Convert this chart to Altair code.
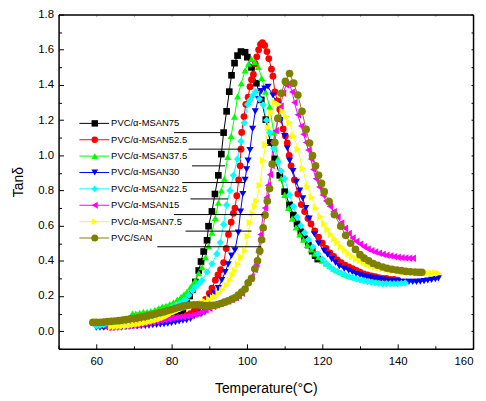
import altair as alt
import pandas as pd

FONT = "Liberation Sans"

labels = ["PVC/α-MSAN75", "PVC/α-MSAN52.5", "PVC/α-MSAN37.5", "PVC/α-MSAN30",
          "PVC/α-MSAN22.5", "PVC/α-MSAN15", "PVC/α-MSAN7.5", "PVC/SAN"]
colors = ["#000000", "#ff0000", "#00ff00", "#0000ff", "#00ffff", "#ff00ff", "#ffff00", "#808000"]
shapes = ["square", "circle", "triangle-up", "triangle-down", "diamond",
          "triangle-left", "triangle-right", "circle"]
sizes = [45, 60, 55, 55, 55, 55, 55, 70]
legend_sizes = [42, 50, 50, 50, 50, 50, 50, 55]

x_major = [60, 80, 100, 120, 140, 160]
x_minor = [50, 70, 90, 110, 130, 150]
x_all = [50, 60, 70, 80, 90, 100, 110, 120, 130, 140, 150, 160]
y_major = [0.0, 0.2, 0.4, 0.6, 0.8, 1.0, 1.2, 1.4, 1.6, 1.8]
y_minor = [-0.1, 0.1, 0.3, 0.5, 0.7, 0.9, 1.1, 1.3, 1.5, 1.7]
y_all = [-0.1, 0.0, 0.1, 0.2, 0.3, 0.4, 0.5, 0.6, 0.7, 0.8, 0.9, 1.0, 1.1, 1.2,
         1.3, 1.4, 1.5, 1.6, 1.7, 1.8]

# PVC/α-MSAN75
t75 = [65, 66, 67, 68, 69, 70, 71, 72, 73, 74, 75, 76, 77, 78, 79, 80, 81, 82, 83, 84,
       84.8, 85.5, 86.3, 87.2, 87.8, 88.5, 89.4, 89.8, 90.7, 91.5,
       92.4, 93.2, 93.8, 94.6, 95.3, 95.9, 96.7, 97.5, 98.4, 99.5,
       100.1, 101.2, 102.5, 103.8, 105, 106.2, 107.4, 108.7, 110, 111.3,
       112.3, 113.3, 114.3, 115.3, 116.3, 117.3, 118.1, 118.8]
v75 = [0.03, 0.032, 0.034, 0.036, 0.038, 0.04, 0.043, 0.046, 0.049, 0.052, 0.055, 0.058,
       0.062, 0.066, 0.07, 0.075, 0.082, 0.09, 0.11, 0.16,
       0.20, 0.235, 0.28, 0.345, 0.396, 0.453, 0.517, 0.597, 0.681, 0.78,
       0.886, 1.007, 1.129, 1.25, 1.362, 1.455, 1.524, 1.567, 1.59, 1.586,
       1.558, 1.50, 1.41, 1.315, 1.203, 1.073, 0.979, 0.886, 0.793, 0.718,
       0.66, 0.61, 0.565, 0.525, 0.49, 0.455, 0.43, 0.41]

# PVC/α-MSAN52.5
t52 = [62, 63, 64, 65, 66, 67, 68, 69, 70, 71, 72, 73, 74, 75, 76, 77, 78, 79, 80, 81,
       82, 83, 84, 85, 86, 87, 88, 89, 90,
       90.7, 91.6, 92.3, 93, 93.8, 94.5, 95.1, 95.8, 96.4, 96.8,
       97.3, 97.8, 98.2, 98.4, 98.6, 99.2, 99.7, 100.3, 100.8, 101.2,
       101.7, 102.2, 102.6, 103.1, 103.6, 104.1, 104.7, 105.3, 105.8, 106.5,
       106.9, 107.4, 108.1, 108.7, 109.6, 110.2, 110.7, 111.2, 111.7, 112.6,
       113.5, 114.4, 115.3, 116.2, 117,
       118, 119, 120, 121, 122, 123, 124, 125, 126, 127, 128, 129, 130, 131, 132, 133,
       134, 135, 136, 137, 138, 139, 140]
v52 = [0.03, 0.03, 0.032, 0.034, 0.036, 0.038, 0.04, 0.042, 0.044, 0.046,
       0.048, 0.05, 0.052, 0.054, 0.056, 0.058, 0.06, 0.063, 0.066, 0.07,
       0.075, 0.08, 0.09, 0.10, 0.115, 0.13, 0.145, 0.18, 0.215,
       0.245, 0.29, 0.32, 0.35, 0.39, 0.47, 0.55, 0.62, 0.67, 0.70,
       0.77, 0.86, 0.94, 1.035, 1.13, 1.22, 1.29, 1.33, 1.39, 1.43,
       1.46, 1.52, 1.56, 1.60, 1.63, 1.64, 1.625, 1.59, 1.55, 1.49,
       1.45, 1.36, 1.31, 1.26, 1.15, 1.11, 1.07, 1.00, 0.94, 0.86,
       0.78, 0.72, 0.68, 0.64, 0.61,
       0.57, 0.535, 0.50, 0.47, 0.445, 0.425, 0.405, 0.39, 0.375, 0.365,
       0.355, 0.345, 0.335, 0.325, 0.32, 0.315, 0.31, 0.305, 0.30, 0.30,
       0.295, 0.295, 0.29]

# PVC/α-MSAN37.5
t37 = [69.6, 70.5, 71.5, 72.5, 73.5, 74.5, 75.5, 76.5, 77.5, 78.5, 79.5, 80.5, 81.5, 82.5,
       83.3, 84.1, 85, 85.7, 86.3, 87.2, 88.1, 89, 89.8, 90.7,
       91.6, 92.4, 93.2, 94, 94.9, 95.8, 96.7, 97.5, 98.5, 99.5,
       100.4, 101.2, 102.1, 103, 103.9, 104.9, 106, 107.1, 108.2, 109.1,
       110, 111, 112, 113, 114, 115, 116, 117, 118, 119, 120, 121, 122, 123, 124, 125,
       126, 127, 128, 129, 130, 131, 132, 133, 134, 135]
v37 = [0.10, 0.10, 0.105, 0.11, 0.11, 0.115, 0.12, 0.13, 0.14, 0.145, 0.155, 0.165, 0.18, 0.195,
       0.21, 0.225, 0.25, 0.27, 0.289, 0.33, 0.364, 0.42, 0.485, 0.56,
       0.644, 0.73, 0.80, 0.867, 0.99, 1.11, 1.22, 1.334, 1.41, 1.483,
       1.52, 1.548, 1.53, 1.502, 1.44, 1.362, 1.278, 1.13, 0.979, 0.87,
       0.775, 0.70, 0.64, 0.59, 0.55, 0.52, 0.49, 0.465, 0.44, 0.42,
       0.40, 0.385, 0.37, 0.355, 0.345, 0.335, 0.325, 0.315, 0.31, 0.305,
       0.30, 0.295, 0.29, 0.29, 0.285, 0.285]

# PVC/α-MSAN30
t30 = [60, 61, 62, 63, 64, 65, 66, 67, 68, 69, 70, 71, 72, 73, 74, 75, 76, 77, 78, 79,
       80, 81, 82, 83, 84, 85, 86, 87, 88,
       88.9, 89.6, 90.3, 91.4, 92.4, 93.3, 94.2, 95, 95.9, 96.8,
       97.7, 98.3, 98.9, 99.5, 99.9, 100.3, 100.8, 101.5, 102.2, 103,
       103.8, 104.7, 105.6, 106.9, 108.2, 109.1, 110, 110.7, 111.3, 112.2,
       113.1, 114, 114.8, 115.6, 116.5, 117.9, 119, 120.5, 121.4, 122.5,
       123.5, 124.5, 125.8,
       127, 128, 129, 130, 131, 132, 133, 134, 135, 136, 137, 138, 139, 140, 141, 142,
       143, 144, 145, 146, 147, 148, 149, 150, 150.8]
v30 = [0.02, 0.02, 0.02, 0.022, 0.022, 0.024, 0.024, 0.025, 0.026, 0.027,
       0.028, 0.028, 0.03, 0.03, 0.032, 0.034, 0.036, 0.038, 0.04, 0.043,
       0.047, 0.051, 0.056, 0.06, 0.063, 0.07, 0.085, 0.095, 0.10,
       0.11, 0.15, 0.196, 0.215, 0.245, 0.29, 0.336, 0.38, 0.43, 0.46,
       0.56, 0.68, 0.78, 0.86, 0.92, 0.97, 1.03, 1.15, 1.25, 1.32,
       1.365, 1.38, 1.39, 1.34, 1.287, 1.20, 1.11, 1.04, 0.97, 0.91,
       0.849, 0.80, 0.755, 0.70, 0.64, 0.551, 0.50, 0.457, 0.435, 0.41,
       0.39, 0.37, 0.355,
       0.345, 0.335, 0.325, 0.318, 0.312, 0.307, 0.303, 0.30, 0.296, 0.293,
       0.29, 0.287, 0.285, 0.283, 0.281, 0.28, 0.28, 0.28, 0.28, 0.282,
       0.285, 0.288, 0.292, 0.296, 0.30]

# PVC/α-MSAN22.5
t22 = [60, 61, 62, 63, 64, 65, 66, 67, 68, 69, 70, 71, 72, 73, 74, 75, 76, 77, 78, 79,
       80, 81, 82, 83,
       83.8, 84.6, 85.5, 86.3, 87.2, 88.1, 89.4, 90.7, 92, 92.9,
       93.8, 94.6, 95.5, 96.4, 97.5, 98.4, 99.3, 100.2, 100.8, 101.5,
       102.3, 103.3, 104.3, 105.2, 106, 107.1, 108.2, 109.1, 110, 111.3,
       112.3, 113.3, 114.3, 115.3, 116.3, 117.5, 118.8,
       120, 121, 122, 123, 124, 125, 126, 127, 128, 129, 130, 131, 132, 133, 134, 135,
       136, 137, 138, 139, 140, 141, 142]
v22 = [0.03, 0.033, 0.036, 0.04, 0.043, 0.047, 0.05, 0.055, 0.06, 0.065,
       0.07, 0.074, 0.078, 0.082, 0.086, 0.09, 0.095, 0.10, 0.11, 0.12,
       0.135, 0.145, 0.155, 0.17,
       0.18, 0.205, 0.23, 0.252, 0.27, 0.289, 0.336, 0.383, 0.439, 0.504,
       0.607, 0.718, 0.80, 0.886, 0.979, 1.08, 1.185, 1.29, 1.315, 1.34,
       1.362, 1.32, 1.287, 1.20, 1.129, 1.04, 0.961, 0.91, 0.867, 0.775,
       0.71, 0.65, 0.60, 0.56, 0.52, 0.48, 0.44,
       0.41, 0.385, 0.365, 0.35, 0.338, 0.328, 0.32, 0.312, 0.305, 0.298,
       0.292, 0.287, 0.282, 0.278, 0.275, 0.272, 0.27, 0.27, 0.27, 0.27,
       0.27, 0.272, 0.274]

# PVC/α-MSAN15
t15 = [63, 64, 65, 66, 67, 68, 69, 70, 71, 72, 73, 74, 75, 76, 77, 78, 79, 80, 81, 82,
       83, 84, 85, 86, 87, 88, 89, 90, 91, 92, 93, 94, 95, 96, 97,
       97.8, 98.6, 99.4, 100.3, 101.2, 102, 102.5, 103, 103.6, 104.3,
       104.8, 105.2, 105.6, 106.1, 106.5, 106.9, 107.6, 108.2, 108.9, 109.6,
       110.4, 111.2, 112, 112.6, 113.5, 114.4, 115, 115.7, 116.3, 117,
       117.6, 118.3, 119.2, 120.1,
       121, 122, 123, 124, 125, 126, 127, 128, 129, 130, 131, 132, 133, 134, 135, 136,
       137, 138, 139, 140, 141, 142, 143, 144]
v15 = [0.02, 0.02, 0.022, 0.024, 0.026, 0.028, 0.03, 0.032, 0.035, 0.038,
       0.042, 0.046, 0.05, 0.055, 0.06, 0.065, 0.07, 0.075, 0.078, 0.08,
       0.082, 0.084, 0.088, 0.095, 0.10, 0.11, 0.12, 0.13, 0.14, 0.15,
       0.157, 0.165, 0.172, 0.18, 0.19,
       0.20, 0.215, 0.245, 0.28, 0.31, 0.35, 0.38, 0.45, 0.55, 0.662,
       0.70, 0.76, 0.83, 0.89, 0.942, 1.073, 1.14, 1.203, 1.28, 1.353,
       1.40, 1.41, 1.36, 1.30, 1.23, 1.166, 1.12, 1.073, 1.03, 0.979,
       0.92, 0.867, 0.82, 0.775,
       0.74, 0.71, 0.68, 0.65, 0.615, 0.585, 0.555, 0.53, 0.51, 0.495,
       0.48, 0.468, 0.458, 0.45, 0.443, 0.437, 0.432, 0.428, 0.424, 0.42,
       0.418, 0.416, 0.415, 0.415]

# PVC/α-MSAN7.5
t7 = [64, 65, 66, 67, 68, 69, 70, 71, 72, 73, 74, 75, 76, 77, 78, 79, 80, 81, 82, 83,
      84, 85, 86, 87, 88,
      88.9, 90, 91, 91.6, 92.5, 93.5, 94.6, 95.5, 96.2, 96.8,
      97.6, 98.5, 99.5, 100.2, 100.8, 101.5, 102.1, 102.5, 103.4, 104.3,
      104.9, 105.6, 106.5, 107.4, 108.4, 109.5, 110.4, 111.3, 112.4, 113.5,
      114.8, 116.1, 117.2, 118.3, 119.5, 120.5, 121.4, 122.3, 123.2, 124,
      125, 126, 127, 128, 129, 130, 131, 132, 133, 134, 135, 136, 137, 138, 139, 140,
      141, 142, 143, 144, 145, 146, 147, 148, 149, 150, 150.8]
v7 = [0.025, 0.026, 0.027, 0.028, 0.03, 0.033, 0.036, 0.04, 0.044, 0.048,
      0.053, 0.058, 0.064, 0.07, 0.078, 0.088, 0.10, 0.11, 0.12, 0.13,
      0.138, 0.145, 0.15, 0.155, 0.162,
      0.168, 0.18, 0.19, 0.196, 0.215, 0.235, 0.261, 0.29, 0.32, 0.345,
      0.38, 0.42, 0.457, 0.54, 0.616, 0.67, 0.709, 0.74, 0.83, 0.97,
      1.06, 1.157, 1.24, 1.30, 1.29, 1.25, 1.22, 1.185, 1.11, 1.035,
      0.923, 0.821, 0.76, 0.70, 0.65, 0.61, 0.58, 0.55, 0.525, 0.505,
      0.48, 0.46, 0.44, 0.425, 0.41, 0.40, 0.39, 0.38, 0.372, 0.365,
      0.36, 0.355, 0.35, 0.347, 0.344, 0.342, 0.34, 0.338, 0.336, 0.335,
      0.334, 0.333, 0.332, 0.331, 0.33, 0.33, 0.33]

# PVC/SAN
tsan = [59.1, 60, 61, 62, 63, 64, 65, 66, 67, 68, 69, 70, 71, 72, 73, 74, 75, 76, 77, 78,
        79, 80, 81, 82, 83, 84, 85, 86, 87, 88, 89, 90, 91, 92, 93, 94, 95, 96,
        96.8, 97.7, 98.6, 99.5, 100.3, 101.2, 102.1, 102.8, 103.4, 103.9,
        104.3, 104.8, 105.4, 106, 106.7, 107.4, 108.2, 109.1, 110.2, 111.3,
        112.4, 113.5, 114.6, 115.7, 116.6, 117.4, 118.2, 119, 119.8, 120.5,
        121.8, 123.2, 124.9, 126.2, 127.5, 128.8, 130, 131.1, 132.3, 133.5,
        134.7, 136, 137.2, 138.5, 139.8, 141, 142.2, 143.4, 144.6, 145.6, 146.4]
vsan = [0.05, 0.05, 0.05, 0.052, 0.054, 0.056, 0.058, 0.06, 0.063, 0.066, 0.07,
        0.073, 0.076, 0.08, 0.084, 0.09, 0.095, 0.10, 0.105, 0.11, 0.117,
        0.123, 0.13, 0.136, 0.142, 0.146, 0.149, 0.15, 0.15, 0.148, 0.146,
        0.145, 0.147, 0.15, 0.157, 0.165, 0.172, 0.182,
        0.19, 0.205, 0.222, 0.24, 0.275, 0.30, 0.355, 0.40, 0.457, 0.52,
        0.588, 0.66, 0.74, 0.811, 0.95, 1.073, 1.21, 1.353, 1.42, 1.465,
        1.41, 1.343, 1.25, 1.147, 1.07, 0.998, 0.94, 0.886, 0.84, 0.793,
        0.737, 0.663, 0.597, 0.545, 0.50, 0.465, 0.435, 0.415, 0.40, 0.385,
        0.375, 0.365, 0.358, 0.352, 0.348, 0.344, 0.34, 0.338, 0.336, 0.335, 0.335]

# leader lines from the legend labels to the curves
lead_x1 = [80.6, 84.5, 85.4, 82.8, 85.0, 80.6, 83.7, 76.2]
lead_x2 = [93.0, 98.6, 94.2, 99.5, 95.0, 104.3, 101.2, 103.8]
lead_y = [1.129, 1.035, 0.94, 0.845, 0.752, 0.663, 0.569, 0.48]

series_t = [t75, t52, t37, t30, t22, t15, t7, tsan]
series_v = [v75, v52, v37, v30, v22, v15, v7, vsan]

rows = []
for lab, ts, vs in zip(labels, series_t, series_v):
    assert len(ts) == len(vs), (lab, len(ts), len(vs))
    for t, v in zip(ts, vs):
        rows.append({"series": lab, "T": t, "tan": v})
df = pd.DataFrame(rows)

lead_df = pd.DataFrame({"x1": lead_x1, "x2": lead_x2, "y": lead_y})
leg_df = pd.DataFrame({"lab": labels})
tick_df = pd.DataFrame({"T": [100.0], "tan": [1.0]})

W, H = 418, 337
xs = alt.Scale(domain=[50, 160], nice=False, zero=False)
ys = alt.Scale(domain=[-0.1, 1.8], nice=False, zero=False)

main_x = alt.X("T:Q", scale=xs, axis=alt.Axis(
    values=x_major, ticks=False, grid=False, labelFont=FONT, labelFontSize=11.5,
    labelColor="black", labelPadding=7, domainColor="black", domainWidth=1.5,
    title="Temperature(°C)", titleFont=FONT, titleFontSize=14, titleFontWeight="normal",
    titleColor="black", titlePadding=15))
main_y = alt.Y("tan:Q", scale=ys, axis=alt.Axis(
    values=y_major, format=".1f", ticks=False, grid=False, labelFont=FONT,
    labelFontSize=11.5, labelColor="black", labelPadding=5, domainColor="black",
    domainWidth=1.5, title="Tanδ", titleFont=FONT, titleFontSize=14,
    titleFontWeight="normal", titleColor="black", titlePadding=12))

color = alt.Color("series:N", scale=alt.Scale(domain=labels, range=colors), legend=None)
shape = alt.Shape("series:N", scale=alt.Scale(domain=labels, range=shapes), legend=None)
size = alt.Size("series:N", scale=alt.Scale(domain=labels, range=sizes), legend=None)

lines = alt.Chart(df).mark_line(strokeWidth=1).encode(
    x=main_x, y=main_y, color=color, detail="series:N")

points = alt.Chart(df).mark_point(filled=True, opacity=1).encode(
    x=alt.X("T:Q", scale=xs, axis=None),
    y=alt.Y("tan:Q", scale=ys, axis=None),
    color=color, shape=shape, size=size)

leaders = alt.Chart(lead_df).mark_rule(color="black", strokeWidth=1).encode(
    x=alt.X("x1:Q", scale=xs, axis=None), x2="x2:Q",
    y=alt.Y("y:Q", scale=ys, axis=None))

# legend drawn as marks, rows placed by a point scale
leg_y = alt.Y("lab:N", scale=alt.Scale(type="point", domain=labels,
                                       range=[109.7, 225.3], padding=0), axis=None)
leg_color = alt.Color("lab:N", scale=alt.Scale(domain=labels, range=colors), legend=None)
leg_lines = alt.Chart(leg_df).mark_rule(strokeWidth=1).encode(
    x=alt.value(21), x2=alt.value(51), y=leg_y, color=leg_color)
leg_points = alt.Chart(leg_df).mark_point(filled=True, opacity=1).encode(
    x=alt.value(36.5), y=leg_y, color=leg_color,
    shape=alt.Shape("lab:N", scale=alt.Scale(domain=labels, range=shapes), legend=None),
    size=alt.Size("lab:N", scale=alt.Scale(domain=labels, range=legend_sizes), legend=None))
leg_text = alt.Chart(leg_df).mark_text(
    align="left", baseline="middle", font=FONT, fontSize=9.5, color="black"
).encode(x=alt.value(53), y=leg_y, text="lab:N")


def tick_layer(xaxis, yaxis):
    return alt.Chart(tick_df).mark_point(opacity=0).encode(
        x=alt.X("T:Q", scale=xs, axis=xaxis),
        y=alt.Y("tan:Q", scale=ys, axis=yaxis))


common = dict(labels=False, grid=False, title=None, tickColor="black", tickWidth=1)
major_ticks = tick_layer(
    alt.Axis(orient="top", offset=-H, values=x_major, tickSize=5, domain=False, **common),
    alt.Axis(orient="right", offset=-W, values=y_major, tickSize=5, domain=False, **common))
minor_ticks = tick_layer(
    alt.Axis(orient="top", offset=-H, values=x_minor, tickSize=3, domain=False, **common),
    alt.Axis(orient="right", offset=-W, values=y_minor, tickSize=3, domain=False, **common))
frame_ticks = tick_layer(
    alt.Axis(orient="bottom", offset=-H, values=x_all, tickSize=2, labels=False, grid=False,
             title=None, tickColor="#aaaaaa", tickWidth=1, domain=True,
             domainColor="black", domainWidth=1.5),
    alt.Axis(orient="left", offset=-W, values=y_all, tickSize=2, labels=False, grid=False,
             title=None, tickColor="black", tickWidth=1, domain=True,
             domainColor="black", domainWidth=1.5))

chart = alt.layer(
    major_ticks, minor_ticks, frame_ticks, lines, points, leaders,
    leg_lines, leg_points, leg_text
).resolve_axis(
    x="independent", y="independent"
).resolve_scale(
    x="independent", y="independent", color="independent",
    shape="independent", size="independent"
).properties(
    width=W, height=H,
    padding={"left": 51, "top": 5, "right": 5, "bottom": 50},
    autosize=alt.AutoSizeParams(type="none"),
    background="white",
).configure_view(stroke=None)

chart.save("out.html", embed_options={"renderer": "svg", "actions": False})
